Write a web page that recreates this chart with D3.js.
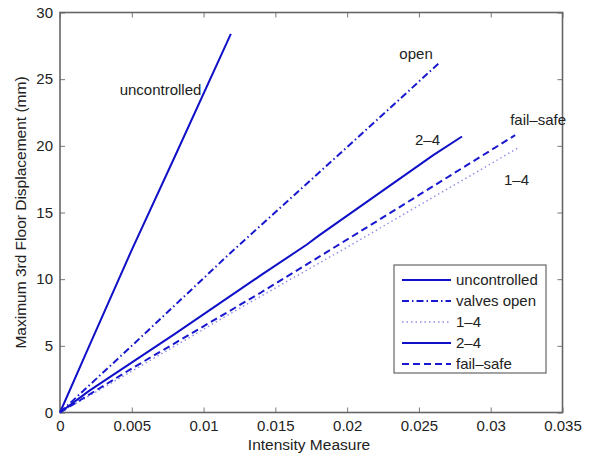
<!DOCTYPE html>
<html lang="en">
<head>
<meta charset="UTF-8">
<title>Intensity Measure</title>
<script src="https://cdn.jsdelivr.net/npm/d3@7"></script>
<style>
  body { margin: 0; background: #fff; }
  text { font-family: "Liberation Sans", Arial, sans-serif; fill: #222; }
</style>
</head>
<body>
<div id="chart"></div>
<script>
// series: [intensity, displacement]
var uncontrolled = [[0, 0], [0.002, 4.9], [0.005, 12.2], [0.008, 19.2], [0.0119, 28.4]];
var valvesOpen = [[0, 0], [0.005, 5.0], [0.012, 12.1], [0.02, 19.9], [0.0264, 26.2]];
var oneFour = [[0, 0], [0.005, 3.1], [0.012, 7.5], [0.02, 12.4], [0.032, 19.9]];
var twoFour = [[0, 0], [0.002, 1.6], [0.008, 5.9], [0.014, 10.3], [0.0172, 12.6], [0.018, 13.25], [0.026, 19.3], [0.028, 20.7]];
var failSafe = [[0, 0], [0.005, 3.3], [0.014, 9.0], [0.022, 14.3], [0.0317, 20.8]];

var xTicks = [0, 0.005, 0.01, 0.015, 0.02, 0.025, 0.03, 0.035];
var yTicks = [0, 5, 10, 15, 20, 25, 30];

var seriesNames = ["uncontrolled", "valves open", "1\u20134", "2\u20134", "fail\u2013safe"];
var seriesData = [uncontrolled, valvesOpen, oneFour, twoFour, failSafe];
var seriesDash = [null, "7,3,1.5,3", "1.5,3", null, "7,4"];
var seriesColor = ["#1010c8", "#1818d0", "#8c8ce6", "#1010c8", "#1818d0"];

// in-plot labels
var tagText = ["uncontrolled", "open", "2\u20134", "fail\u2013safe", "1\u20134"];
var tagPos = [[0.007, 23.8], [0.0248, 26.5], [0.0256, 20.1], [0.0333, 21.6], [0.0318, 17.1]];

var width = 591, height = 454;
var margin = {left: 60, top: 12.5, right: 28.5, bottom: 41.5};
var w = width - margin.left - margin.right;
var h = height - margin.top - margin.bottom;
var fs = "15px";

var svg = d3.select("#chart").append("svg")
    .attr("width", width)
    .attr("height", height);

var g = svg.append("g")
    .attr("transform", "translate(" + margin.left + "," + margin.top + ")");

var x = d3.scaleLinear().domain([0, 0.035]).range([0, w]);
var y = d3.scaleLinear().domain([0, 30]).range([h, 0]);

var line = d3.line()
    .x(function (d) { return x(d[0]); })
    .y(function (d) { return y(d[1]); });

// axes, MATLAB box style with inward ticks
var fmt = function (d) { return d === 0 ? "0" : String(+d.toFixed(3)); };
var axStyle = function (sel) {
    sel.select(".domain").remove();
    sel.selectAll(".tick line").attr("stroke", "#777");
    sel.selectAll("text").style("font-size", fs).attr("fill", "#222");
};

g.append("g")
    .attr("transform", "translate(0," + h + ")")
    .call(d3.axisBottom(x).tickValues(xTicks).tickFormat(fmt).tickSize(-5).tickPadding(8))
    .call(axStyle);
g.append("g")
    .call(d3.axisTop(x).tickValues(xTicks).tickFormat("").tickSize(-5))
    .call(axStyle);
g.append("g")
    .call(d3.axisLeft(y).tickValues(yTicks).tickSize(-5).tickPadding(7))
    .call(axStyle);
g.append("g")
    .attr("transform", "translate(" + w + ",0)")
    .call(d3.axisRight(y).tickValues(yTicks).tickFormat("").tickSize(-5))
    .call(axStyle);

g.append("rect")
    .attr("width", w).attr("height", h)
    .attr("fill", "none")
    .attr("stroke", "#666")
    .attr("stroke-width", 1.6);

// lines
seriesData.forEach(function (s, i) {
    g.append("path")
        .datum(s)
        .attr("d", line)
        .attr("fill", "none")
        .attr("stroke", seriesColor[i])
        .attr("stroke-width", i === 2 ? 1.4 : 2)
        .attr("stroke-dasharray", seriesDash[i]);
});

// labels next to the lines
g.selectAll(".tag")
    .data(tagText)
    .enter()
    .append("text")
    .attr("class", "tag")
    .attr("x", function (d, i) { return x(tagPos[i][0]); })
    .attr("y", function (d, i) { return y(tagPos[i][1]); })
    .attr("text-anchor", "middle")
    .style("font-size", fs)
    .text(function (d) { return d; });

// legend
var lg = g.append("g").attr("transform", "translate(" + (394 - margin.left) + "," + (265 - margin.top) + ")");
lg.append("rect")
    .attr("width", 152).attr("height", 108)
    .attr("fill", "#fff")
    .attr("stroke", "#666")
    .attr("stroke-width", 1.2);
seriesNames.forEach(function (n, i) {
    var yy = 15 + i * 21;
    lg.append("line")
        .attr("x1", 8).attr("x2", 57)
        .attr("y1", yy).attr("y2", yy)
        .attr("stroke", seriesColor[i])
        .attr("stroke-width", i === 2 ? 1.4 : 2)
        .attr("stroke-dasharray", seriesDash[i]);
    lg.append("text")
        .attr("x", 62).attr("y", yy + 5)
        .style("font-size", fs)
        .text(n);
});

// axis titles
svg.append("text")
    .attr("x", 309)
    .attr("y", 450)
    .attr("text-anchor", "middle")
    .style("font-size", "15.5px")
    .text("Intensity Measure");

svg.append("text")
    .attr("transform", "translate(26," + (margin.top + h / 2) + ") rotate(-90)")
    .attr("text-anchor", "middle")
    .style("font-size", "15.5px")
    .text("Maximum 3rd Floor Displacement (mm)");
</script>
</body>
</html>
